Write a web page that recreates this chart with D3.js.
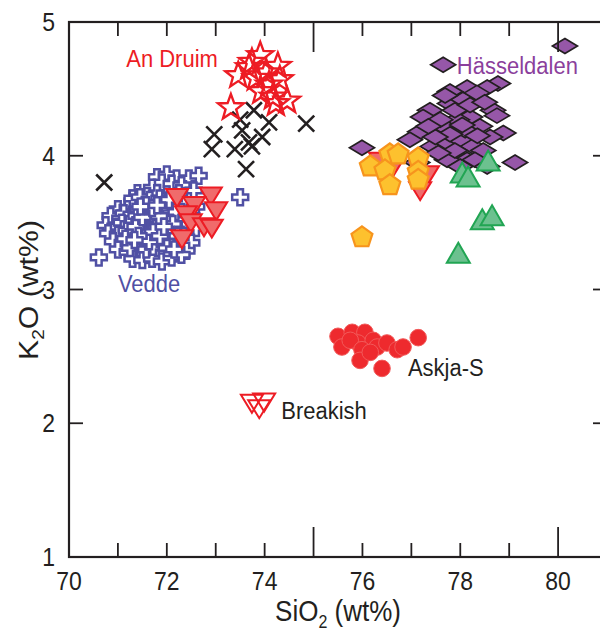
<!DOCTYPE html>
<html><head><meta charset="utf-8">
<script src="https://cdn.jsdelivr.net/npm/d3@7"></script>
<style>body{margin:0;background:#fff}svg{display:block}</style>
</head><body><svg id="c" width="600" height="634"></svg>
<script>
// ---------- data ----------
const xMinorTicks = [71, 72, 73, 74, 76, 77, 78, 79];
const xMajorTicks = [75, 80];
const xTickLabels = [70, 72, 74, 76, 78, 80];
const yInnerTicks = [2, 3, 4];
const yTickLabels = [1, 2, 3, 4, 5];

const vedde = [
  [71.8,3.84],[72.0,3.86],[72.2,3.83],[71.9,3.80],[72.1,3.79],[72.45,3.83],[72.65,3.85],[72.3,3.78],[71.7,3.76],[72.55,3.74],
  [71.4,3.72],[71.6,3.70],[71.8,3.72],[72.0,3.71],[72.2,3.69],[71.3,3.66],[71.5,3.65],[71.7,3.64],[71.9,3.66],[72.1,3.63],[72.35,3.65],[72.6,3.62],
  [71.0,3.60],[71.2,3.61],[71.35,3.58],[71.5,3.59],[71.65,3.57],[71.8,3.59],[71.95,3.57],[72.1,3.56],[72.3,3.58],[72.5,3.55],
  [70.85,3.55],[71.05,3.53],[71.25,3.54],[71.4,3.52],[71.55,3.53],[71.7,3.51],[71.85,3.52],[72.0,3.50],[72.2,3.52],[72.4,3.49],
  [70.75,3.48],[70.95,3.47],[71.15,3.48],[71.3,3.46],[71.45,3.47],[71.6,3.45],[71.75,3.47],[71.9,3.45],[72.05,3.46],[72.25,3.44],[72.6,3.46],
  [70.8,3.42],[71.0,3.41],[71.2,3.42],[71.35,3.40],[71.5,3.41],[71.65,3.39],[71.8,3.41],[71.95,3.40],[72.15,3.38],[72.35,3.40],
  [70.9,3.36],[71.1,3.35],[71.3,3.34],[71.45,3.35],[71.6,3.33],[71.75,3.35],[71.9,3.33],[72.05,3.34],[72.25,3.33],[72.5,3.35],
  [71.0,3.30],[71.2,3.28],[71.4,3.29],[71.55,3.27],[71.7,3.29],[71.85,3.27],[72.0,3.28],[72.2,3.27],[72.4,3.29],
  [71.3,3.23],[71.5,3.22],[71.7,3.23],[71.9,3.21],[72.1,3.24],[72.3,3.26],
  [71.5,3.50],[71.6,3.48],[71.7,3.56],[71.4,3.44],[71.55,3.38],[71.8,3.44],[71.65,3.52],[71.35,3.50],[71.75,3.40],[71.45,3.56],[71.9,3.50],[71.6,3.60],
  [71.12,3.57],[71.28,3.56],[71.42,3.60],[71.58,3.56],[71.72,3.60],[71.88,3.56],[72.02,3.60],[72.18,3.58],
  [71.08,3.50],[71.22,3.49],[71.38,3.55],[71.52,3.45],[71.68,3.49],[71.82,3.48],[71.98,3.53],[72.12,3.49],
  [71.18,3.44],[71.32,3.43],[71.48,3.38],[71.62,3.42],[71.78,3.37],[71.92,3.42],[72.08,3.41],[72.22,3.40],
  [71.15,3.38],[71.25,3.31],[71.4,3.36],[71.58,3.30],[71.72,3.32],[71.85,3.38],[72.0,3.31],[72.15,3.30],
  [71.3,3.68],[71.45,3.69],[71.65,3.67],[71.85,3.68],[72.05,3.67],[72.25,3.72],
  [71.46,3.52],[71.54,3.46],[71.62,3.55],[71.66,3.44],[71.74,3.53],[71.78,3.46],[71.84,3.55],[71.56,3.41],[71.64,3.36],[71.72,3.43],
  [71.36,3.47],[71.42,3.40],[71.5,3.54],[71.58,3.63],[71.7,3.61],[71.86,3.40],[71.94,3.47],[71.34,3.37],[71.46,3.62],[71.8,3.63],
  [70.61,3.24],[73.50,3.69]
];
const breakish = [
  [72.21,3.70],[72.90,3.71],[73.01,3.60],[72.56,3.64],[72.39,3.57],[72.49,3.51],[72.76,3.48],[72.92,3.47],[72.31,3.39]
];
const breakishHidden = [[76.36,3.97],[76.63,3.93],[77.34,3.87],[77.18,3.75]];
const breakishKey = [[73.74,2.16],[73.89,2.12],[73.99,2.17]];
const crossPts = [
  [70.72,3.80],[73.78,4.34],[74.09,4.25],[74.85,4.24],[72.97,4.16],[73.54,4.19],[72.92,4.05],
  [73.39,4.05],[73.68,4.10],[73.95,4.14],[73.74,4.07],[73.62,3.90],[73.50,4.27]
];
const anDruim = [
  [73.91,4.75],[73.68,4.66],[74.27,4.67],[74.03,4.62],[73.82,4.58],[73.46,4.60],[74.09,4.53],
  [74.31,4.57],[73.93,4.48],[74.17,4.44],[74.46,4.41],[73.31,4.36],[73.74,4.70],[74.23,4.39]
];
const hasseldalen = [
  [80.14,4.82],[77.65,4.68],[75.99,4.06],[79.12,3.95],
  [78.77,4.54],[78.55,4.51],[78.14,4.51],[77.79,4.48],[77.38,4.34],[77.24,4.29],[77.79,4.39],[78.06,4.42],
  [78.34,4.47],[78.67,4.34],[78.75,4.30],[78.88,4.17],[78.61,4.14],[78.40,4.22],[78.20,4.29],[77.93,4.27],
  [77.65,4.22],[77.18,4.18],[76.97,4.12],[77.44,4.07],[77.73,4.10],[78.00,4.12],[78.26,4.07],[78.47,4.04],
  [77.93,3.99],[78.14,3.97],[77.73,3.97],[78.00,3.92],[77.89,4.34],[78.10,4.19],[77.79,4.16],[77.59,4.27],
  [78.20,4.38],[77.69,4.45],[77.89,4.04],[78.30,3.97],[77.49,4.14],[78.04,4.23],[78.55,3.92],[77.12,3.95],
  [77.55,4.02],[78.35,4.15],[77.35,4.22],[78.50,4.40]
];
const pentagons = [
  [76.16,3.92],[76.56,4.01],[76.73,4.01],[76.46,3.89],[76.56,3.78],[77.14,3.98],[77.14,3.88],[77.14,3.82],[75.99,3.39]
];
const greenTriangles = [[78.04,3.86],[78.16,3.83],[78.57,3.95],[78.45,3.51],[78.65,3.54],[77.96,3.26]];
const askja = [
  [75.50,2.65],[75.79,2.68],[76.05,2.68],[75.58,2.57],[75.91,2.60],[76.22,2.62],[75.75,2.62],[75.99,2.55],
  [75.95,2.47],[76.30,2.57],[76.16,2.53],[76.50,2.60],[76.71,2.55],[76.83,2.57],[77.14,2.64],[76.40,2.41]
];

// ---------- layout ----------
const svg = d3.select("#c");
const x = d3.scaleLinear().domain([70, 81]).range([69, 607]);
const y = d3.scaleLinear().domain([1, 5]).range([557, 22]);
const FONT = "'Liberation Sans', Arial, Helvetica, sans-serif";
const SY = 1.12; // vertical stretch of text

function txt(g, s, px, py, size, fill, anchor) {
  return g.append("text")
    .attr("transform", `translate(${px},${py}) scale(1,${SY})`)
    .attr("font-family", FONT).attr("font-size", size).attr("fill", fill)
    .attr("text-anchor", anchor || "start").text(s);
}

// shapes
const starPath = (R, r) => { const p = []; for (let i = 0; i < 10; i++) { const a = -Math.PI/2 + i*Math.PI/5, q = i%2 ? r : R; p.push([q*Math.cos(a), q*Math.sin(a)]); } return "M" + p.join("L") + "Z"; };
const pentPath = R => { const p = []; for (let i = 0; i < 5; i++) { const a = -Math.PI/2 + i*2*Math.PI/5; p.push([R*Math.cos(a), R*Math.sin(a)]); } return "M" + p.join("L") + "Z"; };
const plusPath = (a, w) => `M${-w},${-a}H${w}V${-w}H${a}V${w}H${w}V${a}H${-w}V${w}H${-a}V${-w}H${-w}Z`;
const crossPath = a => `M${-a},${-a}L${a},${a}M${-a},${a}L${a},${-a}`;
const diamondPath = "M0,-7.5L12.5,0L0,7.5L-12.5,0Z";
const downTri = "M-11,-7L11,-7L0,11Z";
const upTri = "M0,-12L11.5,8L-11.5,8Z";

function plot(data, d, style) {
  const g = svg.append("g");
  g.selectAll("path").data(data).join("path")
    .attr("d", d)
    .attr("transform", p => `translate(${x(p[0])},${y(p[1])})`)
    .each(function () { const s = d3.select(this); for (const k in style) s.attr(k, style[k]); });
  return g;
}

plot(vedde, plusPath(8, 2.8), {fill: "#fff", stroke: "#5050a4", "stroke-width": 2.5});
plot(breakish, downTri, {fill: "#f06b6b", stroke: "#ed1c24", "stroke-width": 2});
plot(crossPts, crossPath(8), {fill: "none", stroke: "#231f20", "stroke-width": 2.6});
plot(anDruim, starPath(13.5, 5.6), {fill: "none", stroke: "#ed1c24", "stroke-width": 2.4});
plot(hasseldalen, diamondPath, {fill: "#9657a8", stroke: "#231f20", "stroke-width": 1.7});
plot(breakishHidden, downTri, {fill: "#f06b6b", stroke: "#ed1c24", "stroke-width": 2});
plot(pentagons, pentPath(11), {fill: "#fdc12e", stroke: "#f7941d", "stroke-width": 2.2});
plot(greenTriangles, upTri, {fill: "#6cc18f", stroke: "#21a553", "stroke-width": 2});
svg.append("g").selectAll("circle").data(askja).join("circle")
  .attr("cx", p => x(p[0])).attr("cy", p => y(p[1])).attr("r", 8.3)
  .attr("fill", "#ee2a2e").attr("stroke", "#f25a5a").attr("stroke-width", 1);
plot(breakishKey, downTri, {fill: "none", stroke: "#ed1c24", "stroke-width": 2});

// frame and ticks
const ax = svg.append("g").attr("stroke", "#231f20").attr("fill", "none");
ax.append("rect").attr("x", x(70)).attr("y", y(5)).attr("width", x(81) - x(70)).attr("height", y(1) - y(5)).attr("stroke-width", 2.2);
const tk = (vals, len) => {
  ax.append("g").selectAll("line").data(vals).join("line")
    .attr("x1", v => x(v)).attr("x2", v => x(v)).attr("y1", y(1)).attr("y2", y(1) - len).attr("stroke-width", 1.8);
  ax.append("g").selectAll("line").data(vals).join("line")
    .attr("x1", v => x(v)).attr("x2", v => x(v)).attr("y1", y(5)).attr("y2", y(5) + len).attr("stroke-width", 1.8);
};
tk(xMinorTicks, 14);
tk(xMajorTicks, 30);
ax.append("g").selectAll("line").data(yInnerTicks).join("line")
  .attr("x1", x(70)).attr("x2", x(70) + 14).attr("y1", v => y(v)).attr("y2", v => y(v)).attr("stroke-width", 1.8);
ax.append("g").selectAll("line").data(yInnerTicks).join("line")
  .attr("x1", x(81)).attr("x2", x(81) - 14).attr("y1", v => y(v)).attr("y2", v => y(v)).attr("stroke-width", 1.8);

// tick labels
const tl = svg.append("g");
xTickLabels.forEach(v => txt(tl, v, x(v), 590, 23, "#231f20", "middle"));
yTickLabels.forEach(v => txt(tl, v, 55, y(v) + 9, 23, "#231f20", "end"));

// axis titles
const xt = txt(svg, "", 338, 621, 26, "#231f20", "middle");
xt.append("tspan").text("SiO");
xt.append("tspan").text("2").attr("font-size", 16).attr("dy", 6);
xt.append("tspan").text(" (wt%)").attr("dy", -6);
const yt = svg.append("text")
  .attr("transform", `translate(38,290) rotate(-90) scale(${SY},1)`)
  .attr("font-family", FONT).attr("font-size", 27).attr("fill", "#231f20").attr("text-anchor", "middle");
yt.append("tspan").text("K");
yt.append("tspan").text("2").attr("font-size", 17).attr("dy", 6);
yt.append("tspan").text("O (wt%)").attr("dy", -6);

// group labels
txt(svg, "An Druim", x(71.17), y(4.664), 22, "#ed1c24");
txt(svg, "Hässeldalen", x(77.93), y(4.61), 22, "#8b3f9c");
txt(svg, "Vedde", x(71.0), y(2.98), 22, "#5050a4");
txt(svg, "Askja-S", x(76.93), y(2.35), 22, "#231f20");
txt(svg, "Breakish", x(74.34), y(2.03), 22, "#231f20");
</script></body></html>
